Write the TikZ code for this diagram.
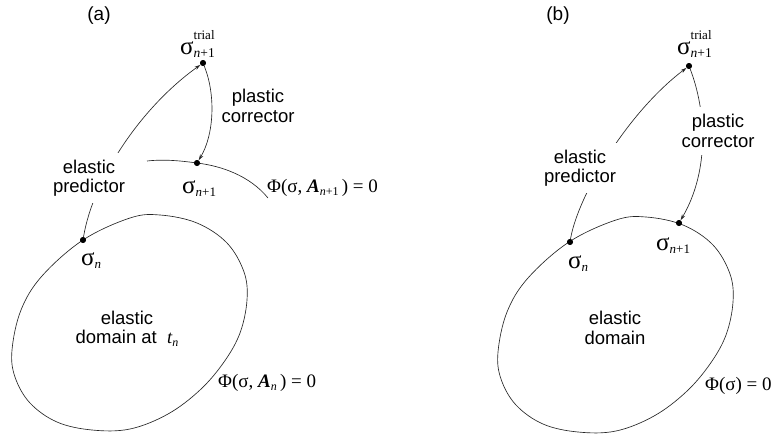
\documentclass[tikz,border=0pt]{standalone}
\usepackage{fontspec}
\setmainfont{Liberation Sans}
\newfontfamily\tms{Liberation Serif}
\usetikzlibrary{arrows.meta}
\newcommand\Sb[1]{\raisebox{-3pt}{\fontsize{13}{13}\selectfont #1}}
\newcommand\Sbe[1]{\raisebox{-3pt}{\fontsize{12}{13}\selectfont #1}}
\newcommand\SbSp[2]{\rlap{\raisebox{15pt}{\fontsize{13}{13}\selectfont #1}}\raisebox{-3pt}{\fontsize{13.5}{13}\selectfont #2}}
\newcommand\npo{\itshape n\upshape +1}
\tikzset{
  curve/.style={line width=0.65pt, draw=black!85},
  arr/.style={curve, -{Stealth[length=6pt,width=3.6pt]}},
  dotnode/.style={circle, fill=black, inner sep=0pt, minimum size=6pt},
  lbl/.style={font=\fontsize{18.5}{19.5}\selectfont, align=center, fill=white, inner xsep=4pt, inner ysep=7pt},
  plain/.style={font=\fontsize{18.5}{19.5}\selectfont, align=center, inner sep=0pt},
  sym/.style={font=\tms\fontsize{25}{26}\selectfont, inner sep=0pt, anchor=base west},
  eqn/.style={font=\tms\fontsize{19}{21}\selectfont, inner sep=0pt, anchor=base west},
  tag/.style={font=\fontsize{19}{20}\selectfont, inner sep=0pt}
}
\def\domainpts{(12,350) (21,310) (42,276) (83,240) (130,218) (160,215) (197,223) (227,243) (244,272) (247,300) (240,333) (224,362) (200,390) (168,414) (130,429) (92,430) (57,422) (30,403) (15,377)}
\begin{document}
\begin{tikzpicture}[x=1pt,y=-1pt]
\useasboundingbox (0,0) rectangle (773,434);

% ---------------- panel (a) ----------------
\node[tag] (taga) at (99,16) {(a)};
\draw[curve] plot[smooth cycle, tension=0.6] coordinates {\domainpts};

\node[dotnode] (sna) at (83,240) {};
\node[dotnode] (tra) at (203,63) {};
\node[dotnode] (sn1a) at (197,163) {};
\coordinate (ya0) at (147,161);
\coordinate (ya1) at (268,198);

\draw[curve] (ya0) .. controls (165,159) and (182,161) .. (sn1a.center)
             .. controls (222,166) and (250,176) .. (ya1);
\draw[arr] (sna) .. controls (93,180) and (140,108) .. (tra);
\draw[arr] (tra) .. controls (216,95) and (214,135) .. (sn1a);

\node[lbl] (epa) at (89,178) {elastic\\predictor};
\node[plain] (pca) at (258,106) {plastic\\corrector};
\node[plain] (eda) at (127,329) {elastic\\domain at\ \ {\tms\itshape t\Sbe{\itshape n}}};

\node[sym] (ltra) at (180,54) {σ\SbSp{trial}{\npo}};
\node[sym] (lsn1a) at (182,193) {σ\Sb{\npo}};
\node[sym] (lsna) at (81,265) {σ\Sb{\itshape n}};
\node[eqn] (phia1) at (267,192) {Φ(σ, \textbf{\itshape A}\Sbe{\npo}\,) = 0};
\node[eqn] (phia) at (218,387) {Φ(σ, \textbf{\itshape A}\Sbe{\itshape n}\,) = 0};

% ---------------- panel (b) ----------------
\node[tag] (tagb) at (558,16) {(b)};
\begin{scope}[shift={(486,2)}]
\draw[curve] plot[smooth cycle, tension=0.6] coordinates {\domainpts};
\end{scope}

\node[dotnode] (snb) at (570,242) {};
\node[dotnode] (trb) at (689,66) {};
\node[dotnode] (sn1b) at (679,223) {};

\draw[arr] (snb) .. controls (578,195) and (628,112) .. (trb);
\draw[arr] (trb) .. controls (706,110) and (710,170) .. (sn1b);

\node[lbl] (epb) at (580,168) {elastic\\predictor};
\node[lbl] (pcb) at (718,131) {plastic\\corrector};
\node[plain] (edb) at (615,328) {elastic\\domain};

\node[sym] (ltrb) at (677,54) {σ\SbSp{trial}{\npo}};
\node[sym] (lsn1b) at (656,250) {σ\Sb{\npo}};
\node[sym] (lsnb) at (568,268) {σ\Sb{\itshape n}};
\node[eqn] (phib) at (705,390) {Φ(σ) = 0};

% redraw dots on top
\foreach \d in {sna,tra,sn1a,snb,trb,sn1b} \fill (\d.center) circle (2.8);
\end{tikzpicture}
\end{document}
